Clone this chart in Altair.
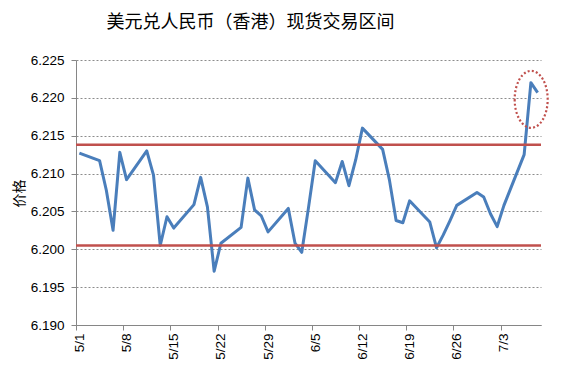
import altair as alt
import pandas as pd

# ---- data ----
dates = [
    "2015-05-01", "2015-05-04", "2015-05-05", "2015-05-06", "2015-05-07", "2015-05-08",
    "2015-05-11", "2015-05-12", "2015-05-13", "2015-05-14", "2015-05-15",
    "2015-05-18", "2015-05-19", "2015-05-20", "2015-05-21", "2015-05-22",
    "2015-05-25", "2015-05-26", "2015-05-27", "2015-05-28", "2015-05-29",
    "2015-06-01", "2015-06-02", "2015-06-03", "2015-06-04", "2015-06-05",
    "2015-06-08", "2015-06-09", "2015-06-10", "2015-06-11", "2015-06-12",
    "2015-06-15", "2015-06-16", "2015-06-17", "2015-06-18", "2015-06-19",
    "2015-06-22", "2015-06-23", "2015-06-24", "2015-06-25", "2015-06-26",
    "2015-06-29", "2015-06-30", "2015-07-01", "2015-07-02", "2015-07-03",
    "2015-07-06", "2015-07-07", "2015-07-08",
]
prices = [
    6.2127, 6.2117, 6.2078, 6.2025, 6.2128, 6.2092,
    6.2130, 6.2098, 6.2005, 6.2043, 6.2028,
    6.2059, 6.2095, 6.2056, 6.1971, 6.2008,
    6.2029, 6.2094, 6.2052, 6.2044, 6.2023,
    6.2054, 6.2008, 6.1996, 6.2055, 6.2117,
    6.2088, 6.2116, 6.2084, 6.2118, 6.2160,
    6.2132, 6.2092, 6.2038, 6.2035, 6.2064,
    6.2036, 6.2002, 6.2019, 6.2038, 6.2058,
    6.2075, 6.2069, 6.2047, 6.2030, 6.2058,
    6.2125, 6.2220, 6.2207,
]
band_levels = [6.2138, 6.2005]
tick_dates = ["2015-05-01", "2015-05-08", "2015-05-15", "2015-05-22", "2015-05-29",
              "2015-06-05", "2015-06-12", "2015-06-19", "2015-06-26", "2015-07-03"]
y_ticks = [6.190, 6.195, 6.200, 6.205, 6.210, 6.215, 6.220, 6.225]
axis_start = "2015-05-01"
axis_end = "2015-07-09"
mark_date = ["2015-07-07T13:00:00"]
mark_price = [6.2198]

title_text = "美元兑人民币（香港）现货交易区间"
y_title = "价格"

# ---- tables ----
df = pd.DataFrame({"t": [d + "T12:00:00" for d in dates], "v": prices})
bands = pd.DataFrame({"level": band_levels})
ann = pd.DataFrame({"t": mark_date, "v": mark_price})


def dt(s):
    y, m, d = (int(p) for p in s.split("-"))
    return alt.DateTime(year=y, month=m, date=d)


x_scale = alt.Scale(domain=[dt(axis_start), dt(axis_end)])
y_scale = alt.Scale(domain=[y_ticks[0], y_ticks[-1]], nice=False, zero=False)

label_font = "Liberation Sans"

x_axis = alt.Axis(values=[dt(s) for s in tick_dates], format="%-m/%-d", tickCount=20,
                  labelAngle=-90, labelAlign="right", labelBaseline="middle",
                  labelOffset=3.4, labelPadding=3, tickSize=5,
                  labelFont=label_font, labelFontSize=13.5, labelColor="black",
                  domainColor="#868686", tickColor="#868686", grid=False,
                  labelOverlap=False)
y_axis = alt.Axis(values=y_ticks, tickCount=20, format=".3f", tickSize=5, labelPadding=7,
                  labelFont=label_font, labelFontSize=13.5, labelColor="black",
                  labelOverlap=False, labelFlush=False,
                  domainColor="#868686", tickColor="#868686",
                  grid=True, gridColor="#8c8c8c", gridDash=[2, 2], gridWidth=1,
                  titleFont="Noto Sans CJK SC", titleFontSize=14,
                  titleFontWeight="normal", titleColor="black",
                  titleX=-57, titleY=133, titleAngle=-90,
                  titleAlign="center", titleBaseline="middle")

line = alt.Chart(df).mark_line(color="#4A7EBB", strokeWidth=3, strokeJoin="round").encode(
    x=alt.X("t:T", scale=x_scale, title=None, axis=x_axis),
    y=alt.Y("v:Q", scale=y_scale, title=y_title, axis=y_axis),
)

rules = alt.Chart(bands).mark_rule(color="#C0504D", strokeWidth=2.5).encode(
    y=alt.Y("level:Q", scale=y_scale, title=y_title)
)

ellipse = alt.Chart(ann).mark_point(
    shape="M -0.579 0 A 0.579 1 0 1 0 0.579 0 A 0.579 1 0 1 0 -0.579 0 Z",
    size=3249, filled=False, color="#C0504D", strokeWidth=2.2, strokeDash=[2, 2.2],
    opacity=1,
).encode(
    x=alt.X("t:T", scale=x_scale, title=None),
    y=alt.Y("v:Q", scale=y_scale, title=y_title),
)

chart = alt.layer(line, rules, ellipse).properties(
    width=465, height=265,
    title=alt.TitleParams(title_text, font="Noto Sans CJK SC", fontSize=18,
                          fontWeight="normal", color="black", anchor="middle",
                          frame="group", dx=-58, offset=7, baseline="alphabetic"),
    autosize=alt.AutoSizeParams(type="none"),
    padding={"left": 68, "top": 52, "right": 15, "bottom": 45},
).configure_view(stroke=None)

chart.save("out.html", embed_options={"renderer": "svg", "actions": False})
